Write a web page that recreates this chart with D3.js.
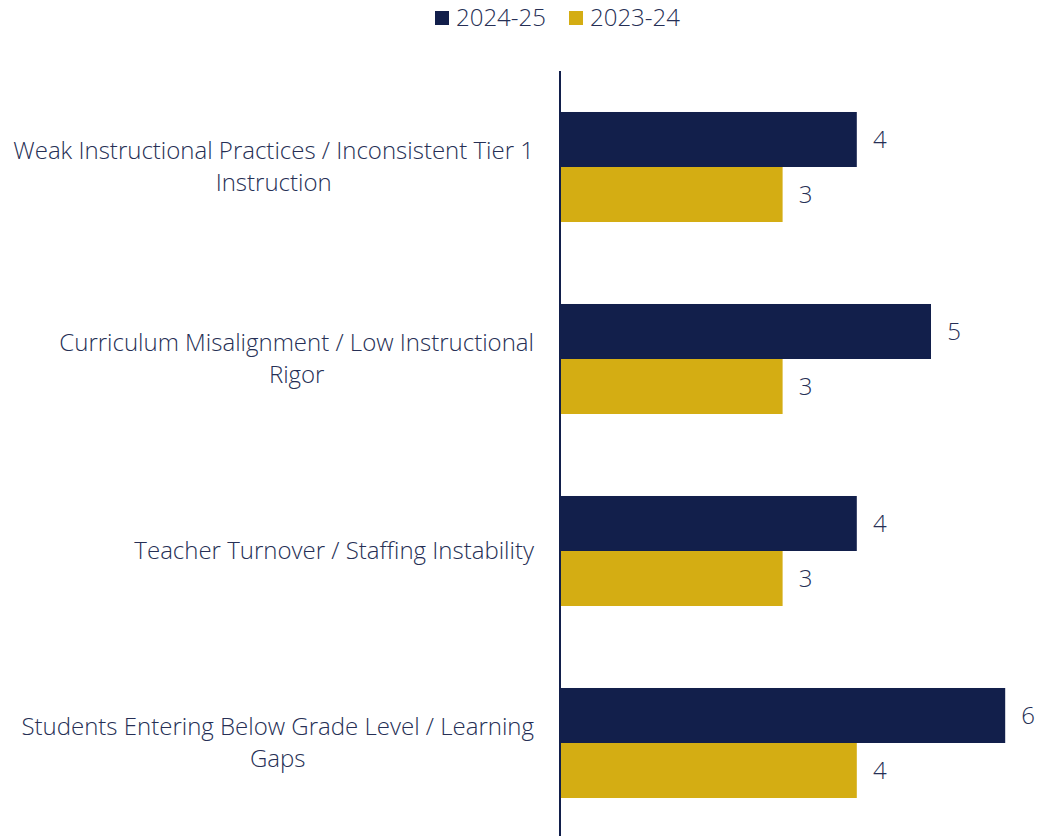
<!DOCTYPE html>
<html>
<head>
<meta charset="utf-8">
<script src="https://cdn.jsdelivr.net/npm/d3@7"></script>
<style>
  html, body { margin: 0; padding: 0; background: #fff; }
  svg { display: block; }
  text { font-family: "Open Sans", sans-serif; font-weight: 350; fill: #262f55; }
</style>
</head>
<body>
<svg id="chart" width="1038" height="836"></svg>
<script>
// chart data
const categories = [
	"Weak Instructional Practices / Inconsistent Tier 1 Instruction",
	"Curriculum Misalignment / Low Instructional Rigor",
	"Teacher Turnover / Staffing Instability",
	"Students Entering Below Grade Level / Learning Gaps"
];
const seriesNames = ["2024-25", "2023-24"];
const values2425 = [4, 5, 4, 6];
const values2324 = [3, 3, 3, 4];

const colours = {"2024-25": "#121f4b", "2023-24": "#d4ad13"};
const fontSize = "24px";

const svg = d3.select("#chart");
const width = 1038, height = 836;
const margins = {top: 71, left: 560, right: 0, bottom: -3};

const rows = categories.map((c, i) => ({
	cat: c,
	vals: [
		{key: "2024-25", v: values2425[i]},
		{key: "2023-24", v: values2324[i]}
	]
}));

const xScale = d3.scaleLinear()
	.domain([0, 1])
	.range([margins.left, margins.left + 74.2]);

const yScale = d3.scaleBand()
	.domain(categories)
	.range([margins.top, height - margins.bottom])
	.paddingInner(0.427)
	.paddingOuter(0.2135);

const subScale = d3.scaleBand()
	.domain(seriesNames)
	.range([0, yScale.bandwidth()]);

// bars
const groups = svg.selectAll(".cat")
	.data(rows)
	.enter().append("g")
	.attr("class", "cat")
	.attr("transform", d => "translate(0," + yScale(d.cat) + ")");

groups.selectAll("rect")
	.data(d => d.vals)
	.enter().append("rect")
	.attr("x", xScale(0))
	.attr("y", d => subScale(d.key))
	.attr("width", d => xScale(d.v) - xScale(0))
	.attr("height", subScale.bandwidth())
	.attr("fill", d => colours[d.key]);

groups.selectAll(".val")
	.data(d => d.vals)
	.enter().append("text")
	.attr("class", "val")
	.attr("x", d => xScale(d.v) + 23)
	.attr("y", d => subScale(d.key) + subScale.bandwidth() / 2)
	.attr("dy", "0.35em")
	.attr("text-anchor", "middle")
	.style("font-size", fontSize)
	.text(d => d.v);

// axis line
svg.append("g")
	.attr("transform", "translate(" + xScale(0) + ",0)")
	.call(d3.axisLeft(yScale).tickSize(0).tickFormat(""))
	.call(g => g.select(".domain")
		.attr("d", "M0," + margins.top + "V" + height)
		.attr("stroke", "#121f4b")
		.attr("stroke-width", 2));

// category labels, wrapped and centred in a right-aligned block
const labelRight = 534, maxW = 528, lineH = 32;
categories.forEach(cat => {
	const g = svg.append("g");
	const words = cat.split(" ");
	const lines = [];
	let line = [];
	const probe = g.append("text").style("font-size", fontSize);
	words.forEach(w => {
		const test = line.concat(w).join(" ");
		probe.text(test);
		if (probe.node().getComputedTextLength() > maxW && line.length) {
			lines.push(line.join(" "));
			line = [w];
		} else {
			line.push(w);
		}
	});
	lines.push(line.join(" "));
	let blockW = 0;
	lines.forEach(l => {
		probe.text(l);
		blockW = Math.max(blockW, probe.node().getComputedTextLength());
	});
	probe.remove();
	const cx = labelRight - blockW / 2;
	const cy = yScale(cat) + yScale.bandwidth() / 2;
	lines.forEach((l, i) => {
		g.append("text")
			.attr("x", cx)
			.attr("y", cy + (i - (lines.length - 1) / 2) * lineH)
			.attr("dy", "0.35em")
			.attr("text-anchor", "middle")
			.style("font-size", fontSize)
			.text(l);
	});
});

// legend
const legend = svg.append("g").attr("transform", "translate(435,18)");
const legendX = [0, 134];
seriesNames.forEach((s, i) => {
	const item = legend.append("g").attr("transform", "translate(" + legendX[i] + ",0)");
	item.append("rect")
		.attr("x", 0).attr("y", -7)
		.attr("width", 14).attr("height", 14)
		.attr("fill", colours[s]);
	item.append("text")
		.attr("x", 21)
		.attr("dy", "0.35em")
		.style("font-size", fontSize)
		.text(s);
});
</script>
</body>
</html>
